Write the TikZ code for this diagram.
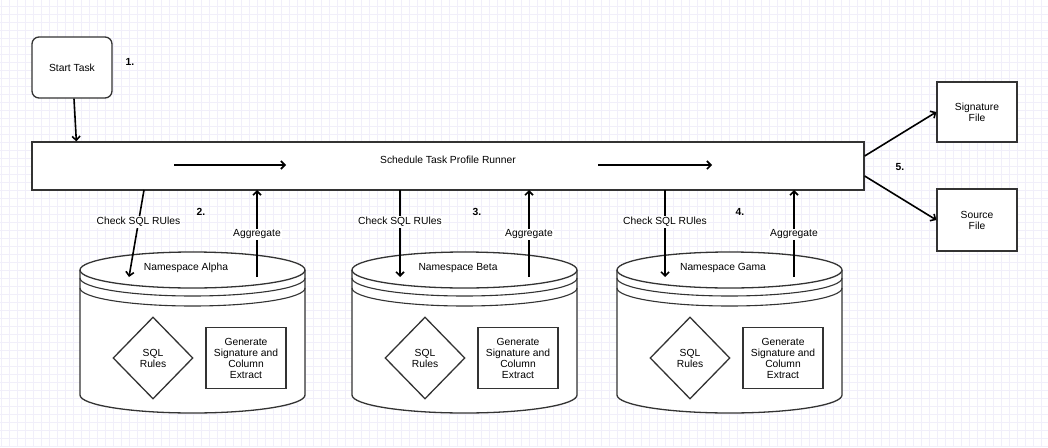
\documentclass[tikz,border=0pt]{standalone}
\usepackage{fontspec}
\setmainfont{Liberation Sans}
\usepackage{tikz}
\usetikzlibrary{arrows.meta,calc,shapes.geometric}
\usetikzlibrary{positioning}

\definecolor{gridline}{HTML}{F1EFFA}
\definecolor{edgegray}{HTML}{333333}

\tikzset{
  box/.style={draw=edgegray,line width=1.3pt,fill=white,align=center,inner sep=0pt},
  lbl/.style={fill=white,inner sep=1pt},
  num/.style={font=\fontsize{10.3}{12}\selectfont\bfseries},
  arr/.style={-{Straight Barb[length=4pt,width=8pt]},line width=1.6pt,black},
  cyl/.style={draw=edgegray,line width=1.3pt,fill=white},
}

\begin{document}
\begin{tikzpicture}[x=1pt,y=-1pt,>=Stealth,font=\fontsize{10.3}{11}\selectfont]
\useasboundingbox (0,0) rectangle (1048,447);
% background grid
\fill[white] (0,0) rectangle (1048,447);
\foreach \i in {1,9,...,1048} \draw[gridline,line width=0.6pt] (\i,0) -- (\i,447);
\foreach \j in {6,14,...,447} \draw[gridline,line width=0.6pt] (0,\j) -- (1048,\j);
% start and runner
\node[box,rounded corners=7pt,minimum width=80,minimum height=61] (start) at (72,67.5) {Start Task};
\node[num] (n1) at (130,62) {1.};
\node[box,minimum width=832,minimum height=48] (runner) at (448,166) {};
\node (runtext) at (448,160) {Schedule Task Profile Runner};
\draw[arr] ([xshift=2pt]start.south) -- ([xshift=45pt]runner.north west);
\coordinate (fa1) at (174,165); \coordinate (fa2) at (286,165);
\coordinate (fb1) at (598,165); \coordinate (fb2) at (712,165);
\draw[arr] (fa1) -- (fa2);
\draw[arr] (fb1) -- (fb2);
% namespaces (cylinders)
\foreach \x/\nm/\tag/\num/\nx/\ca/\cb in {80/alpha/Alpha/2./201/64/49,352/beta/Beta/3./477/48/48,617/gama/Gama/4./740/48/48}{
  \draw[cyl] (\x,270) -- (\x,395) arc[start angle=180,end angle=0,x radius=112.5,y radius=18] -- (\x+225,270);
  \draw[cyl] (\x+112.5,270) ellipse[x radius=112.5,y radius=18];
  \draw[edgegray,line width=1.1pt] (\x,278) arc[start angle=180,end angle=0,x radius=112.5,y radius=18];
  \draw[edgegray,line width=1.1pt] (\x,288) arc[start angle=180,end angle=0,x radius=112.5,y radius=18];
  \node (ns\nm) at (\x+106,268) {Namespace \tag};
  \node[box,diamond,minimum width=80,minimum height=82] (sql\nm) at (\x+73,358) {SQL\\Rules};
  \node[box,minimum width=80,minimum height=61] (gen\nm) at (\x+166,358) {Generate\\Signature and\\Column\\Extract};
  \node[num] (num\nm) at (\nx,212) {\num};
  \coordinate (ckTop\nm) at (\x+\ca,190);
  \coordinate (ckEnd\nm) at (\x+\cb,277);
  \coordinate (agTop\nm) at (\x+177,190);
  \coordinate (agEnd\nm) at (\x+177,277);
  \draw[arr] (ckTop\nm) -- node[lbl,pos=0.37] {Check SQL RUles} (ckEnd\nm);
  \draw[arr] (agEnd\nm) -- node[lbl,pos=0.49] {Aggregate} (agTop\nm);
}
% output files
\node[box,minimum width=80,minimum height=60] (sig) at (977,112) {Signature\\File};
\node[box,minimum width=80,minimum height=62] (src) at (977,220) {Source\\File};
\node[num] (n5) at (900,167) {5.};
\draw[arr] ([yshift=10pt]runner.east) -- (sig.west);
\draw[arr] ([yshift=-10pt]runner.east) -- (src.west);
\end{tikzpicture}
\end{document}
